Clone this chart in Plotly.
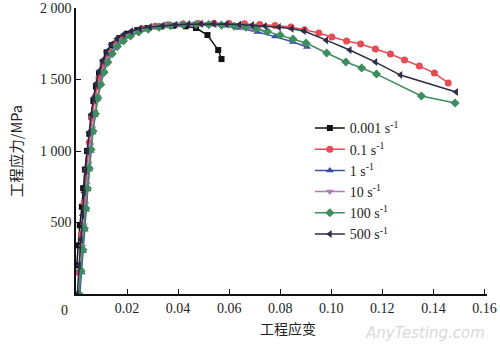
import plotly.graph_objects as go

# ---------------- data ----------------
rate_labels = ["0.001 s<sup>-1</sup>", "0.1 s<sup>-1</sup>", "1 s<sup>-1</sup>",
               "10 s<sup>-1</sup>", "100 s<sup>-1</sup>", "500 s<sup>-1</sup>"]

strain_0001 = [0.0003, 0.0008, 0.0015, 0.0023, 0.0028, 0.0035, 0.0043, 0.0052, 0.006, 0.0068,
               0.0078, 0.009, 0.0105, 0.012, 0.014, 0.017, 0.02, 0.024, 0.028, 0.033,
               0.038, 0.043, 0.047, 0.0515, 0.0557, 0.057]
stress_0001 = [200, 340, 480, 610, 740, 870, 1000, 1120, 1240, 1350,
               1450, 1540, 1620, 1690, 1740, 1790, 1820, 1845, 1860, 1870,
               1876, 1872, 1860, 1811, 1706, 1643]

strain_01 = [0.001, 0.0022, 0.0032, 0.0042, 0.0052, 0.0063, 0.0075, 0.009, 0.0108, 0.013,
             0.0155, 0.0185, 0.022, 0.026, 0.031, 0.036, 0.042, 0.048, 0.054, 0.06,
             0.066, 0.072, 0.078, 0.0842, 0.0895, 0.0951, 0.1002, 0.106, 0.1115, 0.1173,
             0.1232, 0.1287, 0.1345, 0.1404, 0.1458]
stress_01 = [150, 420, 640, 860, 1060, 1230, 1380, 1510, 1610, 1690,
             1750, 1795, 1830, 1855, 1872, 1882, 1888, 1892, 1893, 1892,
             1890, 1885, 1878, 1867, 1848, 1825, 1797, 1769, 1748, 1713,
             1678, 1636, 1594, 1545, 1476]

strain_1 = [0.0015, 0.0022, 0.0028, 0.0034, 0.004, 0.0046, 0.0052, 0.0058, 0.0065, 0.0073,
            0.0082, 0.0092, 0.0104, 0.0118, 0.0134, 0.0153, 0.0176, 0.0202, 0.0233, 0.027,
            0.031, 0.036, 0.041, 0.046, 0.052, 0.058, 0.064, 0.071, 0.078, 0.085, 0.0905]
stress_1 = [0, 150, 300, 450, 590, 730, 870, 1000, 1130, 1250,
            1360, 1460, 1545, 1615, 1675, 1725, 1765, 1800, 1828, 1850,
            1866, 1876, 1882, 1885, 1884, 1876, 1860, 1832, 1800, 1762, 1727]

strain_10 = [0.001, 0.0018, 0.0025, 0.0031, 0.0037, 0.0043, 0.005, 0.0057, 0.0065, 0.0074,
             0.0084, 0.0095, 0.0108, 0.0122, 0.0138, 0.0157, 0.018, 0.0206, 0.0236, 0.027,
             0.031, 0.0355, 0.04, 0.045, 0.05, 0.055, 0.06, 0.065, 0.07, 0.075]
stress_10 = [0, 170, 330, 480, 630, 770, 910, 1040, 1160, 1275,
             1380, 1475, 1555, 1625, 1685, 1735, 1775, 1808, 1835, 1855,
             1870, 1880, 1886, 1890, 1890, 1886, 1878, 1866, 1850, 1832]

strain_100 = [0.0012, 0.002, 0.0027, 0.0033, 0.0039, 0.0045, 0.0052, 0.0059, 0.0067, 0.0076,
              0.0086, 0.0097, 0.011, 0.0125, 0.0142, 0.0162, 0.0186, 0.0214, 0.0246, 0.0283,
              0.0325, 0.037, 0.042, 0.047, 0.052, 0.057, 0.062, 0.0665, 0.0706, 0.075,
              0.08, 0.085, 0.0901, 0.0982, 0.1057, 0.1119, 0.1177, 0.1353, 0.1485]
stress_100 = [0, 160, 310, 460, 600, 740, 880, 1010, 1140, 1260,
              1370, 1465, 1550, 1620, 1680, 1730, 1770, 1805, 1832, 1852,
              1866, 1876, 1882, 1885, 1884, 1880, 1872, 1865, 1858, 1835,
              1810, 1783, 1755, 1685, 1622, 1580, 1538, 1385, 1336]

strain_500 = [0.0005, 0.0012, 0.0019, 0.0025, 0.0031, 0.0037, 0.0044, 0.0051, 0.0059, 0.0068,
              0.0078, 0.009, 0.0104, 0.012, 0.0138, 0.016, 0.0186, 0.0216, 0.025, 0.029,
              0.034, 0.039, 0.044, 0.049, 0.054, 0.059, 0.064, 0.069, 0.074, 0.0795,
              0.0845, 0.0893, 0.098, 0.1072, 0.1173, 0.1271, 0.1489]
stress_500 = [0, 200, 380, 550, 710, 860, 1000, 1130, 1255, 1370,
              1470, 1560, 1635, 1695, 1745, 1785, 1815, 1838, 1856, 1868,
              1877, 1883, 1887, 1889, 1889, 1888, 1885, 1880, 1874, 1866,
              1855, 1839, 1775, 1706, 1622, 1531, 1413]

x_tick_vals = [0, 0.02, 0.04, 0.06, 0.08, 0.10, 0.12, 0.14, 0.16]
x_tick_text = ["", "0.02", "0.04", "0.06", "0.08", "0.10", "0.12", "0.14", "0.16"]
y_tick_vals = [500, 1000, 1500, 2000]
y_tick_text = ["500", "1 000", "1 500", "2 000"]

# ---------------- styling ----------------
series = [
    (strain_0001, stress_0001, "#111111", "square", 6),
    (strain_01, stress_01, "#e64c55", "circle", 7),
    (strain_1, stress_1, "#3c4fa3", "triangle-up", 7),
    (strain_10, stress_10, "#b27ab8", "triangle-down", 7),
    (strain_100, stress_100, "#3e8d5e", "diamond", 7),
    (strain_500, stress_500, "#2a2c48", "triangle-left", 7),
]

serif = "Liberation Serif, Times New Roman, serif"
cjk = "Noto Sans CJK SC"

fig = go.Figure()
for (xs, ys, col, sym, sz), name in zip(series, rate_labels):
    fig.add_trace(go.Scatter(
        x=xs, y=ys, mode="lines+markers", name=name,
        line=dict(color=col, width=1.5),
        marker=dict(symbol=sym, size=sz, color=col, line=dict(width=0)),
    ))

fig.update_layout(
    width=500, height=345,
    margin=dict(l=76, r=13, t=8, b=51, autoexpand=False),
    paper_bgcolor="white", plot_bgcolor="white",
    font=dict(family=serif, size=14, color="#222"),
    showlegend=True,
    legend=dict(x=0.569, y=0.635, xanchor="left", yanchor="top",
                bgcolor="rgba(0,0,0,0)", font=dict(family=serif, size=14, color="#222"),
                itemwidth=30, tracegroupgap=0),
)
fig.update_xaxes(range=[0, 0.161], tickvals=x_tick_vals, ticktext=x_tick_text, automargin=False,
                 showgrid=False, zeroline=False, showline=True, linecolor="#111", linewidth=1.5,
                 ticks="inside", ticklen=5, tickwidth=1.3, tickcolor="#111",
                 tickfont=dict(family=serif, size=14, color="#222"))
fig.update_yaxes(range=[0, 2000], tickvals=y_tick_vals, ticktext=y_tick_text, automargin=False,
                 showgrid=False, zeroline=False, showline=True, linecolor="#111", linewidth=1.5,
                 ticks="inside", ticklen=5, tickwidth=1.3, tickcolor="#111",
                 tickfont=dict(family=serif, size=14, color="#222"))

fig.add_annotation(x=0, y=0, xref="x domain", yref="y domain", text="0",
                   showarrow=False, xanchor="center", yanchor="middle", xshift=-12, yshift=-16,
                   font=dict(family=serif, size=14, color="#222"))
fig.add_annotation(x=0.515, y=-0.118, xref="x domain", yref="y domain", text="工程应变",
                   showarrow=False, xanchor="center", yanchor="middle",
                   font=dict(family=cjk, size=14, color="#222"))
fig.add_annotation(x=-0.148, y=0.5, xref="x domain", yref="y domain", text="工程应力/MPa",
                   showarrow=False, textangle=-90, xanchor="center", yanchor="middle",
                   font=dict(family=cjk, size=14.5, color="#222"))
# faint watermark (site mark)
fig.add_annotation(x=1.0, y=-0.135, xref="x domain", yref="y domain", text="<i>AnyTesting.com</i>",
                   showarrow=False, xanchor="right", yanchor="middle",
                   font=dict(family="DejaVu Sans", size=15, color="rgba(175,175,175,0.5)"))

fig.write_html("out.html", config={"displayModeBar": False},
               post_script="document.body.style.margin='0';document.body.style.overflow='hidden';")
